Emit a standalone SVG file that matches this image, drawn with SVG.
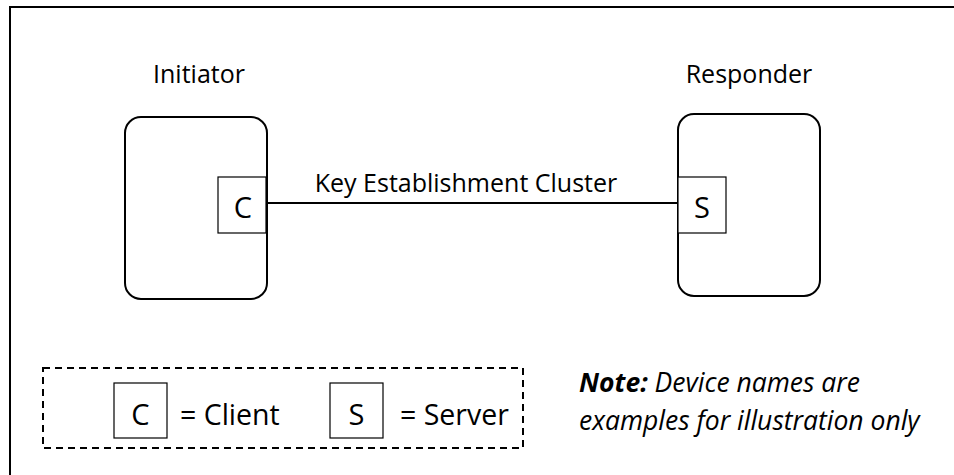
<svg xmlns="http://www.w3.org/2000/svg" width="954" height="475" viewBox="0 0 954 475">
<style>
text{font-family:"Open Sans","Noto Sans","DejaVu Sans",sans-serif;fill:#000}
.dev{fill:#fff;stroke:#000;stroke-width:2}
.port{fill:#fff;stroke:#000;stroke-width:1.2}
.lbl{font-size:25px;text-anchor:middle}
.pl{font-size:29px;text-anchor:middle}
</style>
<rect width="954" height="475" fill="#fff"/>
<rect x="10" y="7" width="960" height="480" fill="none" stroke="#000" stroke-width="2"/>
<g id="connectors">
<line x1="266" y1="203" x2="678" y2="203" stroke="#000" stroke-width="2"/>
<text x="466" y="192" class="lbl">Key Establishment Cluster</text>
</g>
<g id="initiator">
<text x="199" y="83" class="lbl">Initiator</text>
<rect x="125" y="117" width="142" height="182" rx="16" class="dev"/>
<rect x="218" y="177" width="48" height="56" class="port"/>
<text x="243" y="218" class="pl">C</text>
</g>
<g id="responder">
<text x="749" y="83" class="lbl">Responder</text>
<rect x="678" y="114" width="142" height="182" rx="16" class="dev"/>
<rect x="678" y="177" width="48" height="56" class="port"/>
<text x="702" y="218" class="pl">S</text>
</g>
<g id="legend">
<rect x="43" y="368" width="480" height="80" fill="none" stroke="#000" stroke-width="2" stroke-dasharray="7,5"/>
<rect x="114" y="383" width="53" height="55" class="port"/>
<text x="140.5" y="425" class="pl">C</text>
<text x="180" y="425" style="font-size:28.5px">= Client</text>
<rect x="330" y="383" width="53" height="55" class="port"/>
<text x="356.5" y="425" class="pl">S</text>
<text x="400" y="425" style="font-size:28.5px">= Server</text>
</g>
<g id="note">
<text x="579" y="392" style="font-size:26.5px;font-style:italic"><tspan font-weight="bold">Note:</tspan> Device names are</text>
<text x="579" y="430" style="font-size:26.5px;font-style:italic">examples for illustration only</text>
</g>
</svg>
